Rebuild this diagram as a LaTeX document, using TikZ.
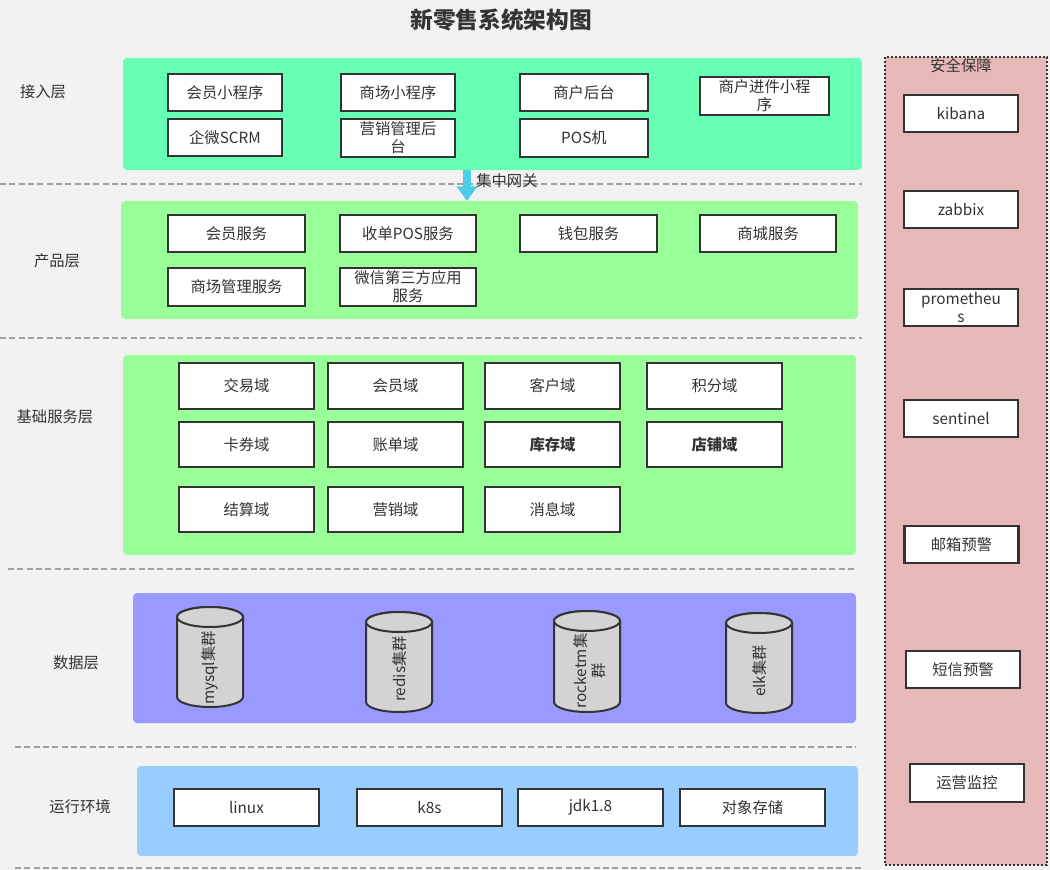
\documentclass[tikz,border=0pt]{standalone}
\usepackage{fontspec}
\setmainfont{Noto Sans CJK SC}
\usetikzlibrary{arrows.meta}
\definecolor{bg}{HTML}{F2F2F2}
\definecolor{ink}{HTML}{333333}
\definecolor{lone}{HTML}{66FFB3}
\definecolor{ltwo}{HTML}{99FF99}
\definecolor{lfour}{HTML}{9999FF}
\definecolor{lfive}{HTML}{99CCFF}
\definecolor{secbg}{HTML}{E6B8B7}
\definecolor{cylf}{HTML}{D3D3D3}
\definecolor{gwblue}{HTML}{4CCDE6}
\definecolor{dashc}{HTML}{A0A0A0}
\tikzset{
  x=0.75pt, y=-0.75pt,
  txt/.style={text=ink, font=\fontsize{11.5pt}{13.5pt}\selectfont, inner sep=0pt, align=center},
  bx/.style={txt, draw=ink, line width=1.6pt, fill=white},
  bxa/.style={bx, minimum width=85.5pt, minimum height=27.75pt},
  bxb/.style={bx, minimum width=102.5pt, minimum height=28pt},
  bxc/.style={bx, minimum width=101.25pt, minimum height=34pt},
  bxe/.style={bx, minimum width=108.75pt, minimum height=27.75pt},
  layer/.style={rounded corners=3pt},
  sep/.style={draw=dashc, line width=1pt, dash pattern=on 4.5pt off 2.5pt},
  cyl/.style={draw=ink, line width=1.5pt, fill=cylf},
  gw/.style={draw=gwblue, line width=6pt, -{Triangle[width=15pt,length=11pt]}},
}
\begin{document}
\begin{tikzpicture}
\fill[bg] (0,0) rectangle (1050,870);
\useasboundingbox (0,0) rectangle (1050,870);

% title
\node[txt, font=\fontsize{17pt}{20pt}\selectfont\bfseries] (title) at (501,20) {新零售系统架构图};

% separators
\draw[sep] (0,184) -- (862,184);
\draw[sep] (0,338) -- (862,338);
\draw[sep] (8,569) -- (856,569);
\draw[sep] (15,747) -- (856,747);
\draw[sep] (15,868) -- (862,868);

% layer backgrounds
\fill[layer, lone] (123,58) rectangle (862,170);
\fill[layer, ltwo] (121,201) rectangle (858,319);
\fill[layer, ltwo] (123,355) rectangle (856,555);
\fill[layer, lfour] (133,593) rectangle (856,723);
\fill[layer, lfive] (137,766) rectangle (858,856);

% security panel
\fill[secbg] (885,57) rectangle (1047,865);
\draw[ink, line width=1.5pt, dash pattern=on 1.5pt off 1.5pt] (885,57) rectangle (1047,865);
\node[txt] (sect) at (961,66) {安全保障};

% layer labels
\node[txt] (lab1) at (43,92) {接入层};
\node[txt] (lab2) at (57,261) {产品层};
\node[txt] (lab3) at (55,417) {基础服务层};
\node[txt] (lab4) at (76,663) {数据层};
\node[txt] (lab5) at (80,807) {运行环境};

% access layer
\node[bxa] (a1) at (225,92.5) {会员小程序};
\node[bxa] (a2) at (398,92.5) {商场小程序};
\node[bxa, minimum width=96pt] (a3) at (584,92.5) {商户后台};
\node[bxa, minimum width=96.75pt, minimum height=28.5pt] (a4) at (764.5,96) {商户进件小程\\序};
\node[bxa] (a5) at (225,137.5) {企微SCRM};
\node[bxa, minimum height=28.5pt] (a6) at (398,138) {营销管理后\\台};
\node[bxa, minimum width=96pt, minimum height=28.5pt] (a7) at (584,138) {POS机};

% gateway arrow
\coordinate (gwA) at (467,170);
\coordinate (gwB) at (467,201);
\draw[gw] (gwA) -- (gwB);
\node[txt, anchor=west] (gwl) at (476,181) {集中网关};

% product layer
\node[bxb] (b1) at (236.5,233.5) {会员服务};
\node[bxb] (b2) at (408,233.5) {收单POS服务};
\node[bxb] (b3) at (588.5,233.5) {钱包服务};
\node[bxb] (b4) at (768,233.5) {商城服务};
\node[bxb] (b5) at (236.5,287) {商场管理服务};
\node[bxb] (b6) at (408,287) {微信第三方应用\\服务};

% basic services
\node[bxc] (c1) at (246.5,386) {交易域};
\node[bxc] (c2) at (395.5,386) {会员域};
\node[bxc] (c3) at (552.5,386) {客户域};
\node[bxc] (c4) at (714.5,386) {积分域};
\node[bxc] (c5) at (246.5,444.5) {卡券域};
\node[bxc] (c6) at (395.5,444.5) {账单域};
\node[bxc, font=\fontsize{11.5pt}{13.5pt}\selectfont\bfseries] (c7) at (552.5,444.5) {库存域};
\node[bxc, font=\fontsize{11.5pt}{13.5pt}\selectfont\bfseries] (c8) at (714.5,444.5) {店铺域};
\node[bxc] (c9) at (246.5,509.5) {结算域};
\node[bxc] (c10) at (395.5,509.5) {营销域};
\node[bxc] (c11) at (552.5,509.5) {消息域};

% data layer cylinders
\draw[cyl] (177,617) -- (177,697) arc[start angle=180,end angle=360,x radius=24.75pt,y radius=7.5pt] -- (243,617) arc[start angle=0,end angle=180,x radius=24.75pt,y radius=7.5pt] -- cycle;
\draw[cyl] (210,617) ellipse[x radius=24.75pt,y radius=7.5pt];
\node[txt, rotate=90] (d1) at (210,668) {mysql集群};

\draw[cyl] (366,622) -- (366,702) arc[start angle=180,end angle=360,x radius=24.75pt,y radius=7.5pt] -- (432,622) arc[start angle=0,end angle=180,x radius=24.75pt,y radius=7.5pt] -- cycle;
\draw[cyl] (399,622) ellipse[x radius=24.75pt,y radius=7.5pt];
\node[txt, rotate=90] (d2) at (400,669) {redis集群};

\draw[cyl] (554,621) -- (554,702) arc[start angle=180,end angle=360,x radius=24.75pt,y radius=7.5pt] -- (620,621) arc[start angle=0,end angle=180,x radius=24.75pt,y radius=7.5pt] -- cycle;
\draw[cyl] (587,621) ellipse[x radius=24.75pt,y radius=7.5pt];
\node[txt, rotate=90] (d3) at (590,671) {rocketm集\\群};

\draw[cyl] (726,623) -- (726,703) arc[start angle=180,end angle=360,x radius=24.75pt,y radius=7.5pt] -- (792,623) arc[start angle=0,end angle=180,x radius=24.75pt,y radius=7.5pt] -- cycle;
\draw[cyl] (759,623) ellipse[x radius=24.75pt,y radius=7.5pt];
\node[txt, rotate=90] (d4) at (760,671) {elk集群};

% runtime
\node[bxe] (e1) at (246.5,807.5) {linux};
\node[bxe] (e2) at (429.5,807.5) {k8s};
\node[bxe] (e3) at (590.5,807.5) {jdk1.8};
\node[bxe] (e4) at (752.5,807.5) {对象存储};

% security boxes
\node[bxa] (s1) at (961,113.5) {kibana};
\node[bxa] (s2) at (961,209.5) {zabbix};
\node[bxa] (s3) at (961,307.5) {prometheu\\s};
\node[bxa] (s4) at (961,418.5) {sentinel};
\node[bxa] (s5) at (961.5,544.5) {邮箱预警};
\node[bxa] (s6) at (963,669.5) {短信预警};
\node[bxa, minimum height=28.5pt] (s7) at (967,783) {运营监控};
\end{tikzpicture}
\end{document}
